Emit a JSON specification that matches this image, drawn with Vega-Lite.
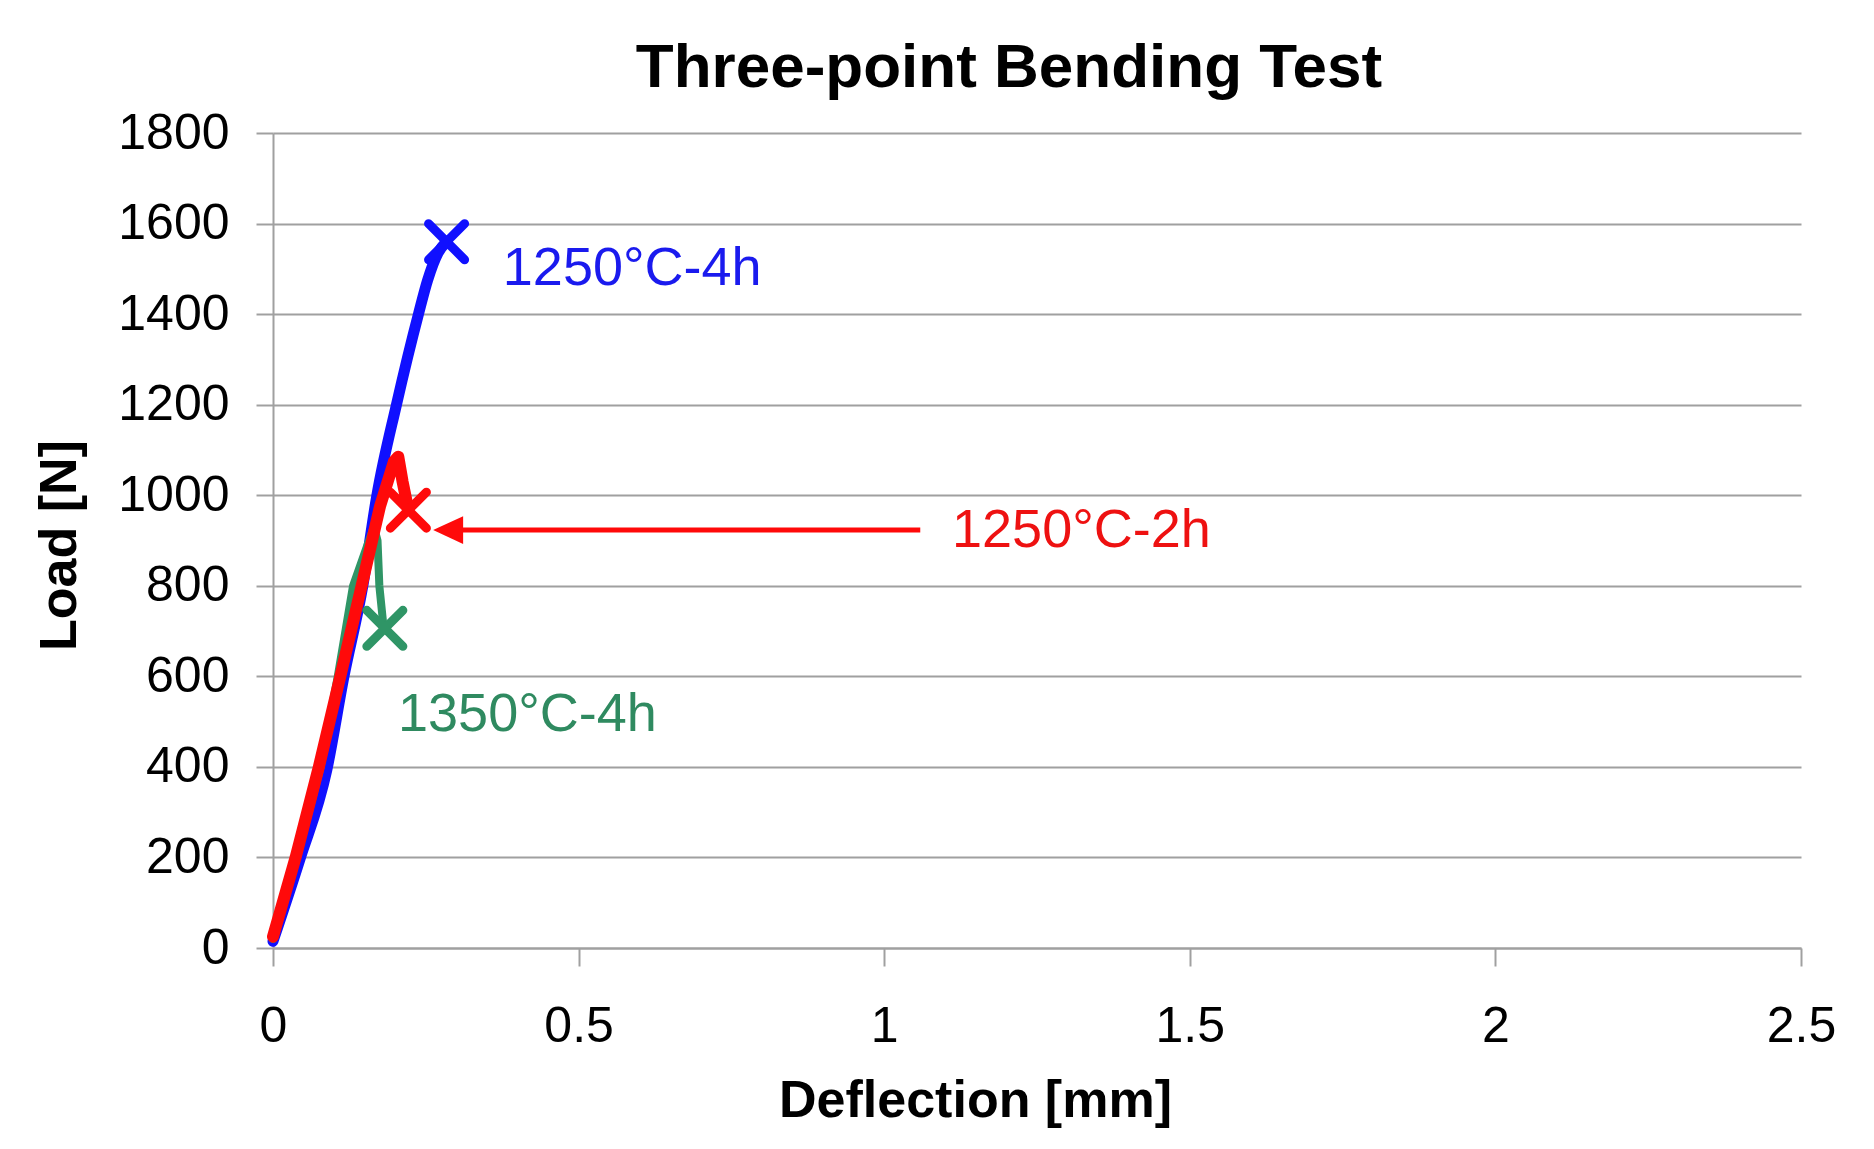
{
  "$schema": "https://vega.github.io/schema/vega-lite/v6.json",
  "autosize": {"type": "none"},
  "padding": {"left": 273, "top": 133, "right": 73, "bottom": 201},
  "width": 1528,
  "height": 815,
  "background": "white",
  "config": {
    "font": "Liberation Sans",
    "view": {"stroke": null}
  },
  "title": {
    "text": "Three-point Bending Test",
    "font": "Liberation Sans",
    "fontSize": 62,
    "fontWeight": "bold",
    "color": "black",
    "baseline": "alphabetic",
    "offset": 43,
    "dx": -28,
    "dy": 84
  },
  "datasets": {
    "curves": [
      {"series": "1250°C-4h", "i": 0, "x": 0.0, "y": 15},
      {"series": "1250°C-4h", "i": 1, "x": 0.044, "y": 196},
      {"series": "1250°C-4h", "i": 2, "x": 0.088, "y": 393},
      {"series": "1250°C-4h", "i": 3, "x": 0.116, "y": 599},
      {"series": "1250°C-4h", "i": 4, "x": 0.147, "y": 800},
      {"series": "1250°C-4h", "i": 5, "x": 0.17, "y": 1000},
      {"series": "1250°C-4h", "i": 6, "x": 0.202, "y": 1200},
      {"series": "1250°C-4h", "i": 7, "x": 0.238, "y": 1400},
      {"series": "1250°C-4h", "i": 8, "x": 0.253, "y": 1475},
      {"series": "1250°C-4h", "i": 9, "x": 0.27, "y": 1535},
      {"series": "1250°C-4h", "i": 10, "x": 0.284, "y": 1560},
      {"series": "1350°C-4h", "i": 0, "x": 0.0, "y": 20},
      {"series": "1350°C-4h", "i": 1, "x": 0.039, "y": 200},
      {"series": "1350°C-4h", "i": 2, "x": 0.078, "y": 400},
      {"series": "1350°C-4h", "i": 3, "x": 0.106, "y": 600},
      {"series": "1350°C-4h", "i": 4, "x": 0.131, "y": 800},
      {"series": "1350°C-4h", "i": 5, "x": 0.165, "y": 930},
      {"series": "1350°C-4h", "i": 6, "x": 0.171, "y": 900},
      {"series": "1350°C-4h", "i": 7, "x": 0.174, "y": 800},
      {"series": "1350°C-4h", "i": 8, "x": 0.18, "y": 720},
      {"series": "1350°C-4h", "i": 9, "x": 0.183, "y": 706},
      {"series": "1250°C-2h", "i": 0, "x": 0.0, "y": 25},
      {"series": "1250°C-2h", "i": 1, "x": 0.037, "y": 200},
      {"series": "1250°C-2h", "i": 2, "x": 0.075, "y": 400},
      {"series": "1250°C-2h", "i": 3, "x": 0.11, "y": 599},
      {"series": "1250°C-2h", "i": 4, "x": 0.145, "y": 800},
      {"series": "1250°C-2h", "i": 5, "x": 0.175, "y": 975},
      {"series": "1250°C-2h", "i": 6, "x": 0.198, "y": 1075},
      {"series": "1250°C-2h", "i": 7, "x": 0.205, "y": 1085},
      {"series": "1250°C-2h", "i": 8, "x": 0.212, "y": 1030},
      {"series": "1250°C-2h", "i": 9, "x": 0.2215, "y": 967}
    ],
    "markers": [
      {"series": "1250°C-4h", "x": 0.284, "y": 1560},
      {"series": "1350°C-4h", "x": 0.183, "y": 706},
      {"series": "1250°C-2h", "x": 0.2215, "y": 967}
    ],
    "labels": [
      {"series": "1250°C-4h", "x": 0.376, "y": 1500},
      {"series": "1350°C-4h", "x": 0.2046, "y": 515},
      {"series": "1250°C-2h", "x": 1.111, "y": 922}
    ],
    "arrow": [
      {"x": 0.28, "x2": 1.059, "y": 923, "hx": 0.2865}
    ]
  },
  "encoding": {
    "x": {
      "type": "quantitative",
      "scale": {"domain": [0, 2.5], "nice": false, "zero": false},
      "axis": {
        "title": "Deflection [mm]",
        "values": [0, 0.5, 1, 1.5, 2, 2.5],
        "format": "~g",
        "grid": false,
        "labelFontSize": 50,
        "labelColor": "black",
        "labelPadding": 35,
        "labelFlush": false,
        "tickSize": 18,
        "tickWidth": 2,
        "tickColor": "#a0a0a0",
        "domainColor": "#a0a0a0",
        "domainWidth": 2,
        "titleFontSize": 52,
        "titleFontWeight": "bold",
        "titleColor": "black",
        "titleX": 702,
        "titleY": 168,
        "titleBaseline": "alphabetic",
        "titleAlign": "center"
      }
    },
    "y": {
      "type": "quantitative",
      "scale": {"domain": [0, 1800], "nice": false},
      "axis": {
        "title": "Load [N]",
        "values": [0, 200, 400, 600, 800, 1000, 1200, 1400, 1600, 1800],
        "format": "d",
        "grid": true,
        "gridColor": "#a0a0a0",
        "gridWidth": 2,
        "labelFontSize": 50,
        "labelColor": "black",
        "labelPadding": 27,
        "labelFlush": false,
        "tickSize": 17,
        "tickWidth": 2,
        "tickColor": "#a0a0a0",
        "domainColor": "#a0a0a0",
        "domainWidth": 2,
        "titleFontSize": 52,
        "titleFontWeight": "bold",
        "titleColor": "black",
        "titleX": -198,
        "titleY": 412,
        "titleAngle": -90,
        "titleBaseline": "alphabetic",
        "titleAlign": "center"
      }
    }
  },
  "layer": [
    {
      "data": {"name": "curves"},
      "transform": [{"filter": "datum.series === '1250°C-4h'"}],
      "mark": {"type": "line", "color": "#1010ff", "strokeWidth": 11, "strokeCap": "round", "strokeJoin": "round", "interpolate": "monotone"},
      "encoding": {"x": {"field": "x", "type": "quantitative"}, "y": {"field": "y", "type": "quantitative"}, "order": {"field": "i"}}
    },
    {
      "data": {"name": "curves"},
      "transform": [{"filter": "datum.series === '1350°C-4h'"}],
      "mark": {"type": "line", "color": "#2f9566", "strokeWidth": 8, "strokeCap": "round", "strokeJoin": "round"},
      "encoding": {"x": {"field": "x", "type": "quantitative"}, "y": {"field": "y", "type": "quantitative"}, "order": {"field": "i"}}
    },
    {
      "data": {"name": "curves"},
      "transform": [{"filter": "datum.series === '1250°C-2h'"}],
      "mark": {"type": "line", "color": "#ff0a0a", "strokeWidth": 12, "strokeCap": "round", "strokeJoin": "round"},
      "encoding": {"x": {"field": "x", "type": "quantitative"}, "y": {"field": "y", "type": "quantitative"}, "order": {"field": "i"}}
    },
    {
      "data": {"name": "markers"},
      "mark": {"type": "point", "shape": "M-1,-1L1,1M1,-1L-1,1", "filled": false, "size": 1300, "strokeWidth": 9, "opacity": 1, "strokeCap": "round"},
      "encoding": {
        "x": {"field": "x", "type": "quantitative"},
        "y": {"field": "y", "type": "quantitative"},
        "stroke": {"field": "series", "type": "nominal", "scale": {"domain": ["1250°C-4h", "1350°C-4h", "1250°C-2h"], "range": ["#1010ff", "#2f9566", "#ff0a0a"]}, "legend": null}
      }
    },
    {
      "data": {"name": "labels"},
      "mark": {"type": "text", "align": "left", "baseline": "middle", "fontSize": 54, "font": "Liberation Sans"},
      "encoding": {
        "x": {"field": "x", "type": "quantitative"},
        "y": {"field": "y", "type": "quantitative"},
        "text": {"field": "series"},
        "color": {"field": "series", "type": "nominal", "scale": {"domain": ["1250°C-4h", "1350°C-4h", "1250°C-2h"], "range": ["#1a1aee", "#2f8a60", "#ee1111"]}, "legend": null}
      }
    },
    {
      "data": {"name": "arrow"},
      "mark": {"type": "rule", "color": "#ff0a0a", "strokeWidth": 5},
      "encoding": {
        "x": {"field": "x", "type": "quantitative"},
        "x2": {"field": "x2"},
        "y": {"field": "y", "type": "quantitative"}
      }
    },
    {
      "data": {"name": "arrow"},
      "mark": {"type": "point", "shape": "M-1,0L1,-0.93L1,0.93Z", "filled": true, "size": 900, "color": "#ff0a0a", "opacity": 1},
      "encoding": {
        "x": {"field": "hx", "type": "quantitative"},
        "y": {"field": "y", "type": "quantitative"}
      }
    }
  ]
}
